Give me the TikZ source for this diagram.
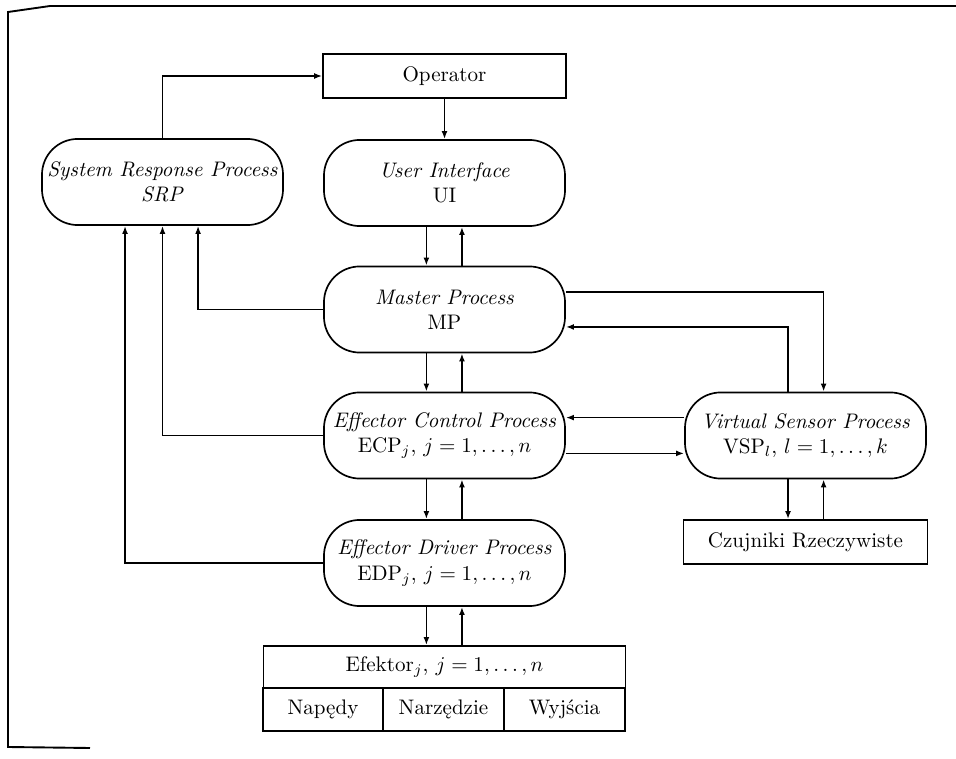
\documentclass[tikz,border=0pt]{standalone}
\usepackage{tikz}
\usetikzlibrary{arrows.meta}

\tikzset{
  proc/.style={draw, line width=0.8pt, rounded corners=17pt, minimum width=114.5pt,
    minimum height=40.9pt, inner sep=1pt, align=center},
  plainbox/.style={draw, line width=0.8pt, minimum height=20.9pt, inner sep=1pt},
  link/.style={line width=0.8pt, -{Latex[length=3.8pt,width=2.8pt]}}
}

\begin{document}
\begin{tikzpicture}[x=0.475pt, y=-0.475pt]
        \useasboundingbox (0,0) rectangle (956,759);

        % Frame of the scanned page
        \draw[line width=0.9pt] (956,6) -- (50,6) -- (8,12) -- (8,747) -- (90,748);

        % Draw the boxes
        \node[plainbox, minimum width=115.4pt] (op) at (444.5,76) {Operator};
        \node[proc] (srp) at (162.5,182) {\textit{System Response Process}\\ \textit{SRP}};
        \node[proc] (ui) at (444.5,183) {\textit{User Interface}\\ UI};
        \node[proc] (mp) at (444.5,309.5) {\textit{Master Process}\\ MP};
        \node[proc] (ecp) at (444.5,435.5) {\textit{Effector Control Process}\\ ECP$_j$, $j=1,\ldots,n$};
        \node[proc] (edp) at (444.5,563) {\textit{Effector Driver Process}\\ EDP$_j$, $j=1,\ldots,n$};
        \node[proc] (vsp) at (805.5,435.5) {\textit{Virtual Sensor Process}\\ VSP$_l$, $l=1,\ldots,k$};
        \node[plainbox, minimum width=115.9pt] (czu) at (805.5,542) {Czujniki Rzeczywiste};

        % Effector table
        \node[plainbox, minimum width=172pt, minimum height=20pt] (efk) at (444.5,667) {Efektor$_j$, $j=1,\ldots,n$};
        \node[plainbox, minimum width=57pt, minimum height=20.4pt] (nap) at (323,709.5) {Napędy};
        \node[plainbox, minimum width=57.5pt, minimum height=20.4pt] (narz) at (443.5,709.5) {Narzędzie};
        \node[plainbox, minimum width=57.5pt, minimum height=20.4pt] (wyj) at (564.5,709.5) {Wyjścia};

        % Operator links
        \draw[link] (srp.north) |- (op.west);
        \draw[link] (op.south) -- (ui.north);

        % Down and up links along the middle column
        \draw[link] ([xshift=-8.6pt]ui.south) -- ([xshift=-8.6pt]mp.north);
        \draw[link] ([xshift=8.3pt]mp.north) -- ([xshift=8.3pt]ui.south);
        \draw[link] ([xshift=-8.6pt]mp.south) -- ([xshift=-8.6pt]ecp.north);
        \draw[link] ([xshift=8.3pt]ecp.north) -- ([xshift=8.3pt]mp.south);
        \draw[link] ([xshift=-8.6pt]ecp.south) -- ([xshift=-8.6pt]edp.north);
        \draw[link] ([xshift=8.3pt]edp.north) -- ([xshift=8.3pt]ecp.south);
        \draw[link] ([xshift=-8.6pt]edp.south) -- ([xshift=-8.6pt]efk.north);
        \draw[link] ([xshift=8.3pt]efk.north) -- ([xshift=8.3pt]edp.south);

        % Responses to SRP
        \draw[link] (mp.west) -| ([xshift=16.9pt]srp.south);
        \draw[link] (ecp.west) -| (srp.south);
        \draw[link] (edp.west) -| ([xshift=-17.8pt]srp.south);

        % Virtual sensor links
        \draw[link] ([yshift=8.3pt]mp.east) -| ([xshift=8.6pt]vsp.north);
        \draw[link] ([xshift=-8.3pt]vsp.north) |- ([yshift=-8.3pt]mp.east);
        \draw[link] ([yshift=8.5pt]vsp.west) -- ([yshift=8.5pt]ecp.east);
        \draw[link] ([yshift=-8.5pt]ecp.east) -- ([yshift=-8.5pt]vsp.west);
        \draw[link] ([xshift=-8.3pt]vsp.south) -- ([xshift=-8.3pt]czu.north);
        \draw[link] ([xshift=8.6pt]czu.north) -- ([xshift=8.6pt]vsp.south);
\end{tikzpicture}
\end{document}
